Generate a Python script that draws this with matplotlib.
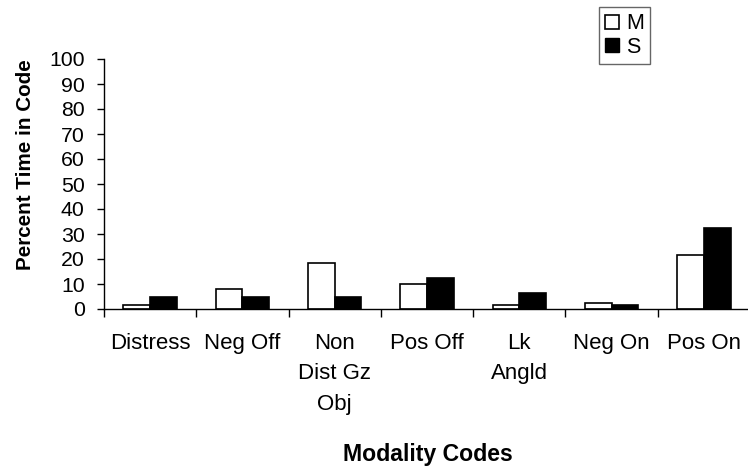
import matplotlib.pyplot as plt
import numpy as np
from matplotlib.patches import Patch

plt.rcParams['font.family'] = ['Liberation Sans', 'DejaVu Sans']

categories = ['Distress', 'Neg Off', 'Non\nDist Gz\nObj', 'Pos Off', 'Lk\nAngld', 'Neg On', 'Pos On']
m_values = [1.6, 7.9, 18.5, 9.9, 1.5, 2.3, 21.5]
s_values = [4.7, 4.7, 4.7, 12.4, 6.3, 1.6, 32.4]

W, H = 748, 468
fig = plt.figure(figsize=(W / 100, H / 100), dpi=100)
ax = fig.add_axes([104 / W, (H - 309) / H, 646 / W, 250 / H])

x = np.arange(len(categories))
bw = 0.29
ax.bar(x - bw / 2, m_values, bw, color='white', edgecolor='black', linewidth=1.2)
ax.bar(x + bw / 2, s_values, bw, color='black', edgecolor='black', linewidth=1.2)

ax.set_xlim(-0.5, len(categories) - 0.5)
ax.set_ylim(0, 100)
ax.set_yticks(np.arange(0, 101, 10))

# ticks at the category boundaries, labels at the centres
ax.set_xticks(np.arange(-0.5, len(categories), 1.0))
ax.set_xticklabels([])
ax.set_xticks(x, minor=True)
ax.set_xticklabels(categories, minor=True, fontsize=16, linespacing=1.6, va='top')
ax.tick_params(axis='x', which='minor', length=0, pad=17)
ax.tick_params(axis='x', which='major', direction='out', length=6, width=1)
ax.tick_params(axis='y', direction='out', length=5, width=1, pad=9, labelsize=15.3)

for side in ['top', 'right']:
    ax.spines[side].set_visible(False)
for side in ['left', 'bottom']:
    ax.spines[side].set_linewidth(1)

fig.text(26 / W, 1 - 165 / H, 'Percent Time in Code', rotation=90, ha='center', va='center',
         fontsize=14.9, fontweight='bold')
fig.text(428 / W, 1 - 455 / H, 'Modality Codes', ha='center', va='center',
         fontsize=16.6, fontweight='bold')

handles = [Patch(facecolor='white', edgecolor='black', linewidth=1.2),
           Patch(facecolor='black', edgecolor='black')]
leg = fig.legend(handles, ['M', 'S'], loc='upper left', bbox_to_anchor=(599 / W, 1 - 7 / H),
                 bbox_transform=fig.transFigure, fontsize=15.5, frameon=True, fancybox=False,
                 handlelength=0.65, handleheight=0.65, handletextpad=0.3, borderpad=0.3,
                 labelspacing=0.1, borderaxespad=0)
leg.get_frame().set_edgecolor('#404040')
leg.get_frame().set_linewidth(1)

fig.savefig('out.png', dpi=100)
